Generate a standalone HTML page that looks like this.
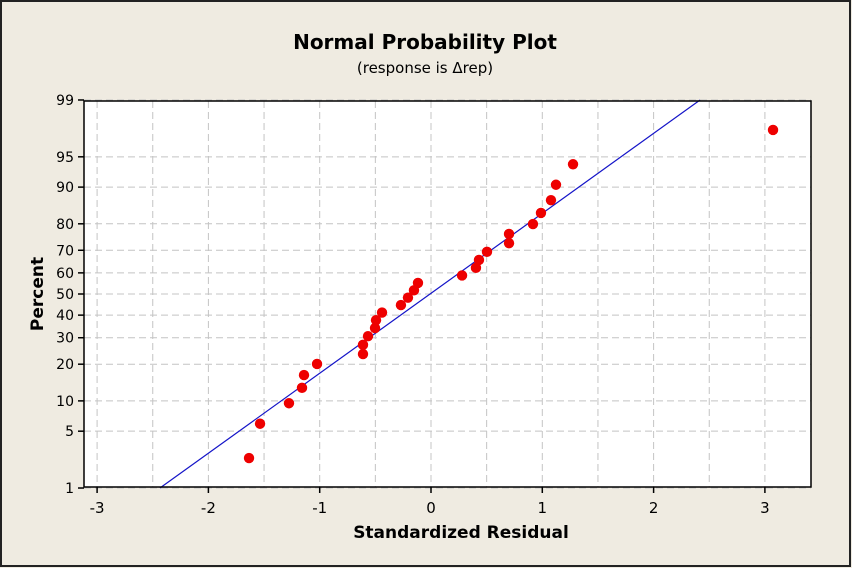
<!DOCTYPE html>
<html><head><meta charset="utf-8"><style>
html,body{margin:0;padding:0;background:#efebe1;}
svg{display:block;font-family:"DejaVu Sans","Liberation Sans",sans-serif;}
</style></head><body>
<svg id="chart" width="852" height="568" viewBox="0 0 852 568">
<rect x="1" y="1" width="849" height="565" fill="#efebe1" stroke="#222" stroke-width="2"/>
<text x="425" y="49" text-anchor="middle" font-size="20" font-weight="bold" fill="#000">Normal Probability Plot</text>
<text x="425" y="73" text-anchor="middle" font-size="15" fill="#000">(response is Δrep)</text>
<rect x="84" y="101" width="727" height="386" fill="#fff"/>
<g id="grid"></g>
<g id="fit"></g>
<g id="pts"></g>
<rect x="84" y="101" width="727" height="386" fill="none" stroke="#000" stroke-width="1.5"/>
<g id="axes"></g>
<text x="461" y="538" text-anchor="middle" font-size="17" font-weight="bold" fill="#000">Standardized Residual</text>
<text x="0" y="0" transform="translate(43,294) rotate(-90)" text-anchor="middle" font-size="17" font-weight="bold" fill="#000">Percent</text>
</svg>
<script>
const residuals=[-1.635,-1.536,-1.276,-1.159,-1.141,-1.024,-0.611,-0.611,-0.566,-0.503,-0.494,-0.440,-0.270,-0.207,-0.153,-0.117,0.279,0.404,0.431,0.503,0.701,0.701,0.916,0.988,1.078,1.123,1.276,3.073];
const percents=[2.46,5.99,9.51,13.03,16.55,20.07,23.59,27.11,30.63,34.15,37.68,41.20,44.72,48.24,51.76,55.28,58.80,62.32,65.85,69.37,72.89,76.41,79.93,83.45,86.97,90.49,94.01,97.54];
const xTicks=[-3,-2,-1,0,1,2,3];
const xGrid=[-3,-2.5,-2,-1.5,-1,-0.5,0,0.5,1,1.5,2,2.5,3];
const yTicks=[1,5,10,20,30,40,50,60,70,80,90,95,99];
const fitMean=[-0.009];
const fitSigma=[1.043];

function invNorm(p){
 const a=[-39.6968302866538,220.946098424521,-275.928510446969,138.357751867269,-30.6647980661472,2.50662827745924];
 const b=[-54.4760987982241,161.585836858041,-155.698979859887,66.8013118877197,-13.2806815528857];
 const c=[-0.00778489400243029,-0.322396458041136,-2.40075827716184,-2.54973253934373,4.37466414146497,2.93816398269878];
 const d=[0.00778469570904146,0.32246712907004,2.445134137143,3.75440866190742];
 const pl=0.02425;let q,r;
 if(p<pl){q=Math.sqrt(-2*Math.log(p));return (((((c[0]*q+c[1])*q+c[2])*q+c[3])*q+c[4])*q+c[5])/((((d[0]*q+d[1])*q+d[2])*q+d[3])*q+1);}
 if(p>1-pl){q=Math.sqrt(-2*Math.log(1-p));return -(((((c[0]*q+c[1])*q+c[2])*q+c[3])*q+c[4])*q+c[5])/((((d[0]*q+d[1])*q+d[2])*q+d[3])*q+1);}
 q=p-0.5;r=q*q;return (((((a[0]*r+a[1])*r+a[2])*r+a[3])*r+a[4])*r+a[5])*q/(((((b[0]*r+b[1])*r+b[2])*r+b[3])*r+b[4])*r+1);
}
const X0=431,XS=111.3,YC=294,ZS=83.4;
const xs=v=>X0+v*XS;
const ys=pct=>YC-invNorm(pct/100)*ZS;
const NS="http://www.w3.org/2000/svg";
function mk(t,attrs,parent){const e=document.createElementNS(NS,t);for(const k in attrs)e.setAttribute(k,attrs[k]);parent.appendChild(e);return e;}
const grid=document.getElementById('grid'),axes=document.getElementById('axes'),fit=document.getElementById('fit'),pts=document.getElementById('pts');
xGrid.forEach(v=>{
 const l=mk('line',{x1:xs(v),x2:xs(v),y1:101,y2:487,stroke:'#c4c4c4','stroke-width':1,'stroke-dasharray':'7,4'},grid);
 
 
});
yTicks.forEach(v=>{
 const y=ys(v);
 const l=mk('line',{x1:84,x2:811,y1:y,y2:y,stroke:'#c4c4c4','stroke-width':1,'stroke-dasharray':'7,4'},grid);
 
 
 const t=mk('line',{x1:78,x2:84,y1:y,y2:y,stroke:'#000','stroke-width':1.5},axes);
 
 
 const tx=mk('text',{x:74,y:y+5,'text-anchor':'end','font-size':14,fill:'#000'},axes);
 tx.textContent=v;
 
 
});
xTicks.forEach(v=>{
 const x=xs(v);
 const t=mk('line',{x1:x,x2:x,y1:487,y2:493,stroke:'#000','stroke-width':1.5},axes);
 
 
 const tx=mk('text',{x:x,y:513,'text-anchor':'middle','font-size':15,fill:'#000'},axes);
 tx.textContent=v;
 
 
});
const zLo=invNorm(0.01),zHi=invNorm(0.99);
const fl=mk('line',{x1:xs(fitMean[0]+zLo*fitSigma[0]),y1:YC-zLo*ZS,x2:xs(fitMean[0]+zHi*fitSigma[0]),y2:YC-zHi*ZS,stroke:'#1414c8','stroke-width':1.2},fit);


residuals.forEach((r,i)=>{
 const c=mk('circle',{cx:xs(r),cy:ys(percents[i]),r:5.2,fill:'#ee0000'},pts);
 
 
});
</script>
</body></html>
